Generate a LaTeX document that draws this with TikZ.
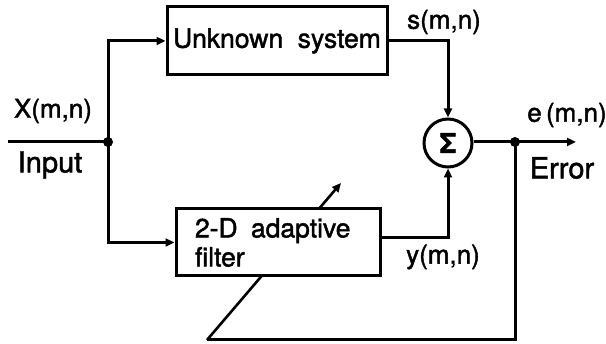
\documentclass[tikz,border=0pt]{standalone}
\usepackage{fontspec}
\setmainfont[FakeBold=1.6]{TeX Gyre Heros}
\usetikzlibrary{arrows.meta}
\begin{document}
\begin{tikzpicture}[x=1pt,y=-1pt, line width=3pt,
  arr/.style={-{Triangle[length=9pt,width=8pt]}},
  blk/.style={draw, fill=white, line width=3pt},
  lbl/.style={font=\fontsize{26}{29}\selectfont, inner sep=0pt},
  big/.style={font=\fontsize{29}{30}\selectfont, inner sep=0pt},
  dot/.style={circle, fill, inner sep=0pt, minimum size=10pt}]
\useasboundingbox (0,0) rectangle (606,344);
\coordinate (fb) at (207,340);
\coordinate (adj) at (341,183);
\draw[arr, line width=2.6pt] (fb) -- (adj);
\node[blk, minimum width=220pt, minimum height=68pt, inner sep=0pt,
      font=\fontsize{26.5}{29}\selectfont] (us) at (277,41) {Unknown\hspace{0.55em}system};
\node[blk, minimum height=67pt, text width=166pt, inner xsep=19pt, inner ysep=0pt,
      align=left, font=\fontsize{26.5}{29}\selectfont] (filt) at (278,242.5)
      {2-D\hspace{0.5em}adaptive\\filter};
\node[circle, draw, line width=3pt, minimum size=48pt, inner sep=0pt,
      font=\fontsize{27}{27}\selectfont\bfseries] (sum) at (448,143) {Σ};
\coordinate (in) at (8,142);
\node[dot] (jin) at (108,142) {};
\node[dot] (je) at (515,142) {};
\coordinate (out) at (576,142);
\draw (in) -- (jin.center);
\draw[arr] (jin.center) |- (us.west);
\draw[arr] (jin.center) |- (filt.west);
\draw[arr] (us.east) -| (sum.north);
\draw[arr] ([yshift=5pt]filt.east) -| (sum.south);
\draw[arr] (sum.east |- je) -- (out);
\draw (je.center) |- (fb);
\node[lbl] (lx) at (53,111) {X(m,n)};
\node[big] (lin) at (50,165) {Input};
\node[lbl] (ls) at (444,22) {s(m,n)};
\node[lbl] (le) at (567,115) {e\,(m,n)};
\node[big] (lerr) at (562,168) {Error};
\node[lbl] (ly) at (443,257) {y(m,n)};
\end{tikzpicture}
\end{document}
